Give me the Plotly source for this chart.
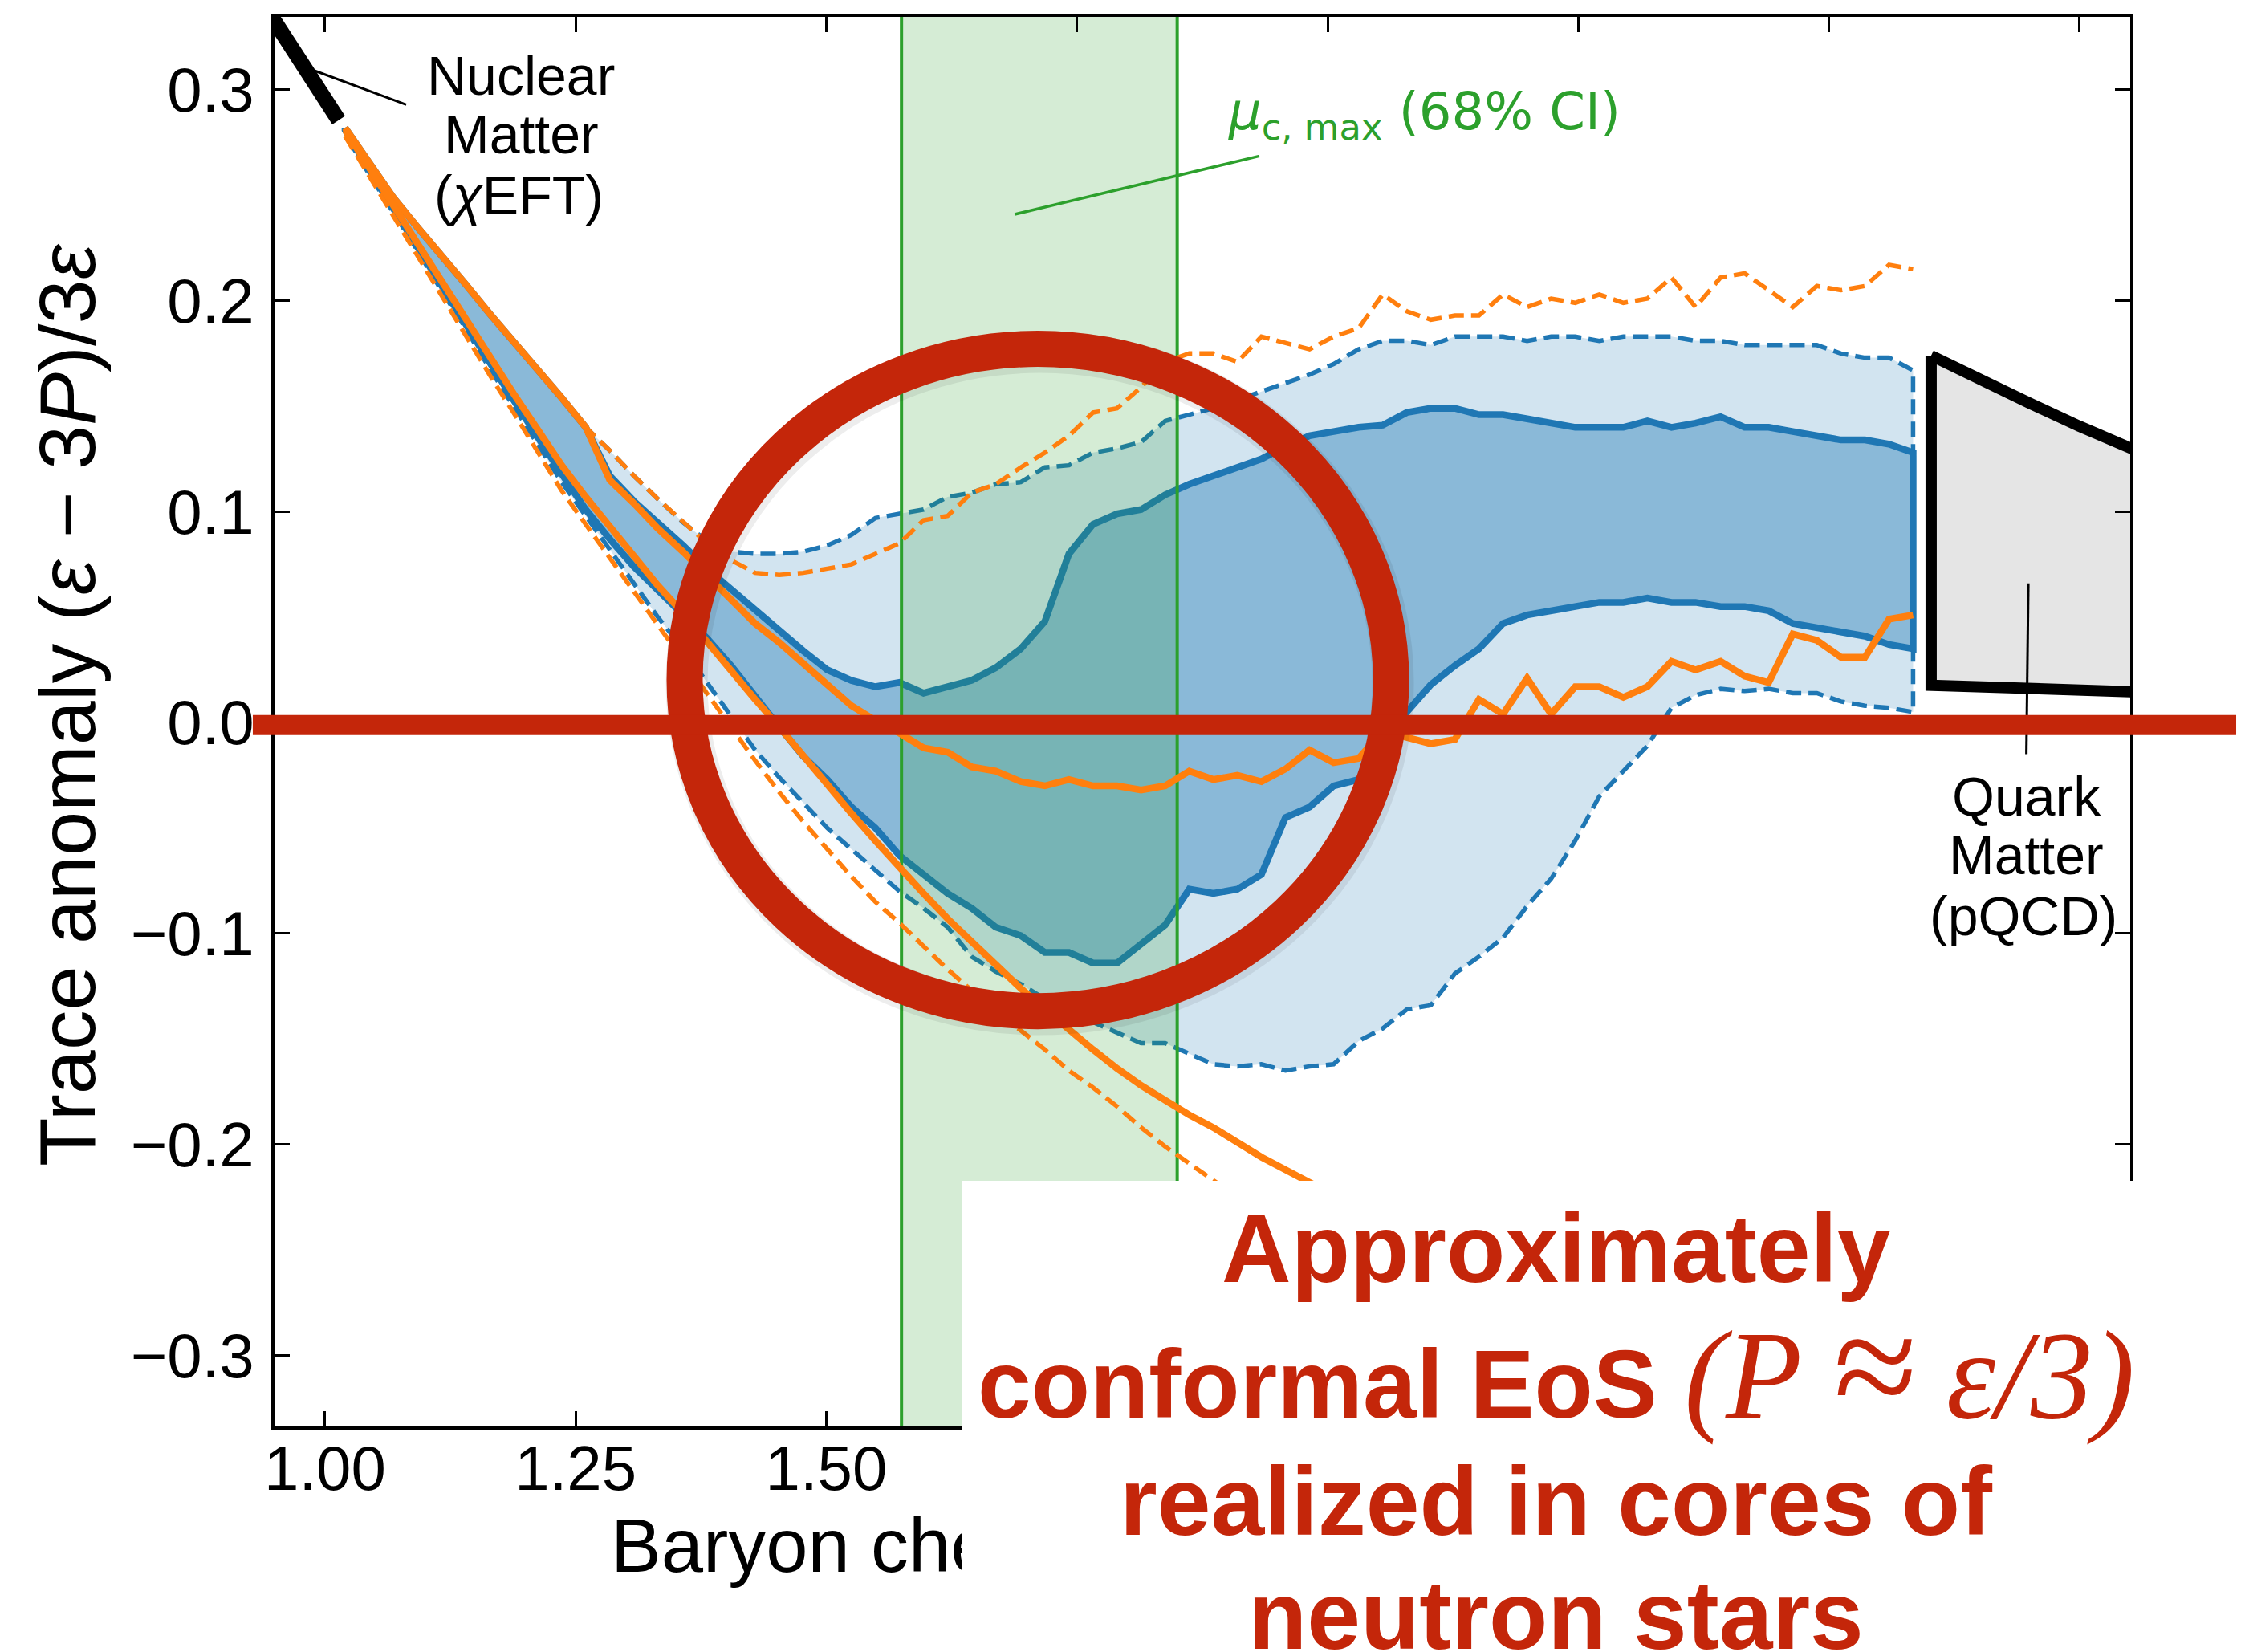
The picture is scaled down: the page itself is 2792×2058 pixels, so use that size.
import plotly.graph_objects as go

# Baryon chemical potential grid (GeV)
mu = [1.020, 1.044, 1.068, 1.092, 1.116, 1.140, 1.164, 1.188, 1.212, 1.236,
      1.260, 1.284, 1.308, 1.332, 1.357, 1.381, 1.405, 1.429, 1.453, 1.477,
      1.501, 1.525, 1.549, 1.573, 1.597, 1.621, 1.645, 1.669, 1.694, 1.718,
      1.742, 1.766, 1.790, 1.814, 1.838, 1.862, 1.886, 1.910, 1.934, 1.958,
      1.982, 2.006, 2.031, 2.055, 2.079, 2.103, 2.127, 2.151, 2.175, 2.199,
      2.223, 2.247, 2.271, 2.295, 2.319, 2.343, 2.367, 2.392, 2.416, 2.440,
      2.464, 2.488, 2.512, 2.536, 2.560, 2.584]

# Trace anomaly, 95% credible band (blue, dashed edges)
band95_upper = [0.282, 0.265, 0.249, 0.235, 0.222, 0.208, 0.194, 0.181, 0.167, 0.154,
                0.140, 0.129, 0.117, 0.106, 0.095, 0.086, 0.081, 0.080, 0.080, 0.081,
                0.084, 0.089, 0.097, 0.099, 0.101, 0.107, 0.109, 0.113, 0.114, 0.121,
                0.122, 0.128, 0.130, 0.133, 0.143, 0.146, 0.149, 0.153, 0.157, 0.161,
                0.165, 0.170, 0.177, 0.181, 0.181, 0.179, 0.183, 0.183, 0.183, 0.181,
                0.183, 0.183, 0.181, 0.183, 0.183, 0.183, 0.181, 0.181, 0.179, 0.179,
                0.179, 0.179, 0.175, 0.173, 0.173, 0.167]
band95_lower = [0.279, 0.260, 0.242, 0.224, 0.205, 0.187, 0.168, 0.150, 0.132, 0.114,
                0.098, 0.082, 0.066, 0.050, 0.035, 0.019, 0.003, -0.013, -0.026, -0.038,
                -0.050, -0.060, -0.070, -0.080, -0.088, -0.097, -0.111, -0.118, -0.124, -0.131,
                -0.137, -0.142, -0.147, -0.152, -0.152, -0.157, -0.162, -0.163, -0.162, -0.165,
                -0.163, -0.162, -0.151, -0.145, -0.136, -0.134, -0.119, -0.111, -0.102, -0.087,
                -0.074, -0.056, -0.035, -0.023, -0.011, 0.007, 0.013, 0.016, 0.015, 0.016,
                0.014, 0.014, 0.010, 0.008, 0.007, 0.005]

# Trace anomaly, 68% credible band (blue, solid edges)
band68_upper = [0.282, 0.265, 0.249, 0.235, 0.222, 0.208, 0.194, 0.181, 0.167, 0.154,
                0.140, 0.117, 0.105, 0.095, 0.084, 0.073, 0.063, 0.054, 0.044, 0.034,
                0.025, 0.020, 0.017, 0.019, 0.014, 0.017, 0.020, 0.026, 0.035, 0.048,
                0.080, 0.094, 0.099, 0.101, 0.108, 0.113, 0.117, 0.121, 0.125, 0.131,
                0.136, 0.138, 0.140, 0.141, 0.147, 0.149, 0.149, 0.146, 0.146, 0.144,
                0.142, 0.140, 0.140, 0.140, 0.143, 0.140, 0.142, 0.145, 0.140, 0.140,
                0.138, 0.136, 0.134, 0.134, 0.132, 0.128]
band68_lower = [0.281, 0.262, 0.243, 0.225, 0.207, 0.189, 0.171, 0.153, 0.135, 0.118,
                0.101, 0.087, 0.074, 0.062, 0.051, 0.040, 0.027, 0.013, -0.002, -0.016,
                -0.027, -0.040, -0.050, -0.063, -0.072, -0.081, -0.088, -0.097, -0.101, -0.109,
                -0.109, -0.114, -0.114, -0.105, -0.096, -0.079, -0.081, -0.079, -0.072, -0.045,
                -0.040, -0.030, -0.027, -0.012, 0.005, 0.018, 0.027, 0.035, 0.047, 0.051,
                0.053, 0.055, 0.057, 0.057, 0.059, 0.057, 0.057, 0.055, 0.055, 0.053,
                0.047, 0.045, 0.043, 0.041, 0.037, 0.035]

# Orange comparison bands: solid = 68%, dashed = 95%
orange68_upper = [0.282, 0.265, 0.249, 0.235, 0.222, 0.208, 0.194, 0.181, 0.167, 0.154,
                  0.140, 0.115, 0.104, 0.092, 0.081, 0.070, 0.059, 0.047, 0.038, 0.028,
                  0.019, 0.008, 0.001, -0.005, -0.012, -0.014, -0.021, -0.023, -0.028, -0.030,
                  -0.027, -0.030, -0.030, -0.032, -0.030, -0.023, -0.027, -0.025, -0.028, -0.022,
                  -0.013, -0.019, -0.017, -0.004, -0.007, -0.010, -0.008, 0.011, 0.004, 0.021,
                  0.004, 0.017, 0.017, 0.012, 0.017, 0.029, 0.025, 0.029, 0.022, 0.019,
                  0.042, 0.039, 0.031, 0.031, 0.049, 0.051]
orange68_lower = [0.281, 0.263, 0.245, 0.227, 0.209, 0.191, 0.173, 0.156, 0.139, 0.122,
                  0.107, 0.093, 0.079, 0.065, 0.052, 0.038, 0.025, 0.011, -0.002, -0.016,
                  -0.030, -0.043, -0.056, -0.069, -0.081, -0.093, -0.104, -0.115, -0.126, -0.136,
                  -0.146, -0.155, -0.164, -0.172, -0.179, -0.186, -0.192, -0.199, -0.206, -0.212,
                  -0.218, -0.224]
orange95_upper = [0.282, 0.265, 0.249, 0.235, 0.222, 0.208, 0.194, 0.181, 0.167, 0.154,
                  0.140, 0.129, 0.117, 0.106, 0.095, 0.085, 0.077, 0.071, 0.070, 0.071,
                  0.073, 0.075, 0.080, 0.085, 0.096, 0.098, 0.109, 0.113, 0.121, 0.128,
                  0.136, 0.147, 0.149, 0.159, 0.171, 0.175, 0.175, 0.171, 0.183, 0.180,
                  0.177, 0.183, 0.187, 0.203, 0.195, 0.191, 0.193, 0.193, 0.203, 0.197,
                  0.201, 0.199, 0.203, 0.199, 0.201, 0.211, 0.197, 0.211, 0.213, 0.205,
                  0.197, 0.207, 0.205, 0.207, 0.217, 0.215]
orange95_lower = [0.278, 0.259, 0.240, 0.222, 0.203, 0.184, 0.165, 0.147, 0.128, 0.110,
                  0.094, 0.078, 0.062, 0.046, 0.030, 0.014, -0.002, -0.018, -0.033, -0.047,
                  -0.060, -0.073, -0.085, -0.095, -0.106, -0.117, -0.127, -0.137, -0.146, -0.155,
                  -0.165, -0.173, -0.182, -0.192, -0.201, -0.209, -0.217, -0.225]

# Location of the sound-speed maximum, 68% CI (GeV)
mu_cmax_ci = [1.575, 1.850]

# Nuclear matter (chiral EFT) end segment
chiral_mu = [0.940, 1.0136]
chiral_anom = [0.3396, 0.2856]

# Quark matter (pQCD) region
pqcd_mu = [2.602, 2.650, 2.700, 2.750, 2.800, 2.860]
pqcd_upper = [0.174, 0.1625, 0.1515, 0.1405, 0.130, 0.118]
pqcd_lower = [0.0177, 0.0170, 0.0162, 0.0154, 0.0146, 0.0137]

# Axis ticks (labels past 1.50 sit under the message panel)
x_tick_vals = [1.00, 1.25, 1.50, 1.75, 2.00, 2.25, 2.50, 2.75]
x_tick_text = ["1.00", "1.25", "1.50", "", "", "", "", ""]

BLUE = "#1f77b4"
ORANGE = "#ff7f0e"
GREEN = "#2ca02c"
RED = "#c4260a"
SANS = "Liberation Sans, Arial, sans-serif"
SOLID_W = 8.5
DASH_W = 5.5
DASH = "19px,9px"

fig = go.Figure()


def closed(upper, lower):
    xs = mu[:len(upper)] + mu[:len(lower)][::-1] + [mu[0]]
    ys = upper + lower[::-1] + [upper[0]]
    return xs, ys


# shaded credible bands
x95, y95 = closed(band95_upper, band95_lower)
x68, y68 = closed(band68_upper, band68_lower)
fig.add_trace(go.Scatter(x=x95, y=y95, mode="lines", fill="toself",
                         fillcolor="rgba(31,119,180,0.2)", line=dict(width=0)))
fig.add_trace(go.Scatter(x=x68, y=y68, mode="lines", fill="toself",
                         fillcolor="rgba(31,119,180,0.4)", line=dict(width=0)))
fig.add_trace(go.Scatter(x=x95, y=y95, mode="lines",
                         line=dict(color=BLUE, width=DASH_W, dash=DASH)))
fig.add_trace(go.Scatter(x=x68, y=y68, mode="lines",
                         line=dict(color=BLUE, width=SOLID_W)))

# mu_c,max credible interval
lo, hi = mu_cmax_ci
fig.add_trace(go.Scatter(x=[lo, lo, hi, hi, lo], y=[-0.5, 0.5, 0.5, -0.5, -0.5],
                         mode="lines", fill="toself", fillcolor="rgba(44,160,44,0.2)",
                         line=dict(color=GREEN, width=4)))

# orange bands (edges only)
n_lo68 = len(orange68_lower)
n_lo95 = len(orange95_lower)
fig.add_trace(go.Scatter(x=mu, y=orange95_upper, mode="lines",
                         line=dict(color=ORANGE, width=DASH_W, dash=DASH)))
fig.add_trace(go.Scatter(x=mu[:n_lo95], y=orange95_lower, mode="lines",
                         line=dict(color=ORANGE, width=DASH_W, dash=DASH)))
fig.add_trace(go.Scatter(x=mu, y=orange68_upper, mode="lines",
                         line=dict(color=ORANGE, width=SOLID_W)))
fig.add_trace(go.Scatter(x=mu[:n_lo68], y=orange68_lower, mode="lines",
                         line=dict(color=ORANGE, width=SOLID_W)))

# chiral EFT segment
fig.add_trace(go.Scatter(x=chiral_mu, y=chiral_anom, mode="lines",
                         line=dict(color="black", width=19)))

# pQCD region
fig.add_trace(go.Scatter(x=pqcd_mu + pqcd_mu[::-1] + [pqcd_mu[0]],
                         y=pqcd_upper + pqcd_lower[::-1] + [pqcd_upper[0]],
                         mode="lines", fill="toself", fillcolor="#e5e5e5",
                         line=dict(color="black", width=14)))

fig.update_traces(hoverinfo="skip", showlegend=False)

axis_common = dict(ticks="inside", ticklen=19, tickwidth=3, tickcolor="black",
                   showline=True, linecolor="black", linewidth=3.5, mirror="ticks",
                   showgrid=False, zeroline=False,
                   tickfont=dict(family=SANS, size=78, color="black"))

fig.update_layout(
    width=2792, height=2058,
    margin=dict(l=342, r=138, t=21, b=281, pad=0),
    paper_bgcolor="white", plot_bgcolor="white",
    font=dict(family=SANS, color="black"),
    showlegend=False,
    xaxis=dict(range=[0.9496, 2.8006], tickmode="array", tickvals=x_tick_vals,
               ticktext=x_tick_text, ticklabelstandoff=-18, **axis_common),
    yaxis=dict(range=[-0.3337, 0.3346], tick0=0.0, dtick=0.1, tickformat=".1f",
               ticklabelstandoff=6, **axis_common),
)

# ring around the conformal region and the P = eps/3 line
ring = dict(x0=1.3587, x1=2.0633, y0=-0.1368, y1=0.1772)
shapes = [
    dict(type="line", xref="x", yref="y", x0=0.990, y0=0.309, x1=1.081, y1=0.293,
         line=dict(color="black", width=3)),
    dict(type="line", xref="x", yref="y", x0=1.688, y0=0.241, x1=1.932, y1=0.2686,
         line=dict(color=GREEN, width=3.5)),
    dict(type="line", xref="x", yref="y", x0=2.699, y0=0.066, x1=2.697, y1=-0.015,
         line=dict(color="black", width=3)),
    dict(type="circle", xref="x", yref="y",
         x0=ring["x0"] + 0.002, x1=ring["x1"] + 0.002,
         y0=ring["y0"] - 0.0015, y1=ring["y1"] - 0.0015,
         line=dict(color="rgba(0,0,0,0.07)", width=52)),
    dict(type="circle", xref="x", yref="y", line=dict(color=RED, width=45), **ring),
    dict(type="rect", xref="paper", yref="y", x0=-0.0117, x1=1.0571, y0=-0.0059, y1=0.0036,
         fillcolor=RED, line=dict(width=0)),
]
fig.update_layout(shapes=shapes)

ann = []


def label(text, x, y, size, color="black", family=SANS, **kw):
    d = dict(text=text, x=x, y=y, xref="paper", yref="paper", showarrow=False,
             xanchor=kw.pop("xanchor", "center"), yanchor=kw.pop("yanchor", "middle"),
             font=dict(family=family, size=size, color=color))
    d.update(kw)
    ann.append(d)


# axis titles
label("Trace anomaly (<i>ε</i> − 3<i>P</i>)/3<i>ε</i>", -0.1116, 0.512, 99, textangle=-90)
label("Baryon chemical potential <i>μ</i><sub>B</sub> (GeV)", 0.5, -0.0885, 94)

# region labels
label("Nuclear", 0.1328, 0.9584, 68)
label("Matter", 0.1328, 0.9169, 68)
label("(<i>χ</i>EFT)", 0.1315, 0.8736, 68)
label("Quark", 0.9442, 0.4470, 68)
label("Matter", 0.9442, 0.4055, 68)
label("(pQCD)", 0.9425, 0.3622, 68)
label("<i>μ</i><sub>c, max</sub> (68% CI)", 0.5130, 0.9305, 64, color=GREEN,
      family="DejaVu Sans, sans-serif", xanchor="left")

# message panel
label(" ", 0.37024, 0.17426, 20, xanchor="left", yanchor="top",
      width=1482, height=600, bgcolor="white", borderpad=0, borderwidth=0)
label("<b>Approximately</b>", 0.6907, 0.1264, 120, color=RED)
label("<b>conformal EoS </b><span style=\"font-family:Liberation Serif;font-size:156px\">"
      "<i>(P <span style=\"font-size:190px\">≈</span> ε/3)</i></span>",
      0.6907, 0.0425, 120, color=RED)
label("<b>realized in cores of</b>", 0.6907, -0.0530, 120, color=RED)
label("<b>neutron stars</b>", 0.6907, -0.1338, 120, color=RED)

fig.update_layout(annotations=ann)

fig.write_html("out.html")
